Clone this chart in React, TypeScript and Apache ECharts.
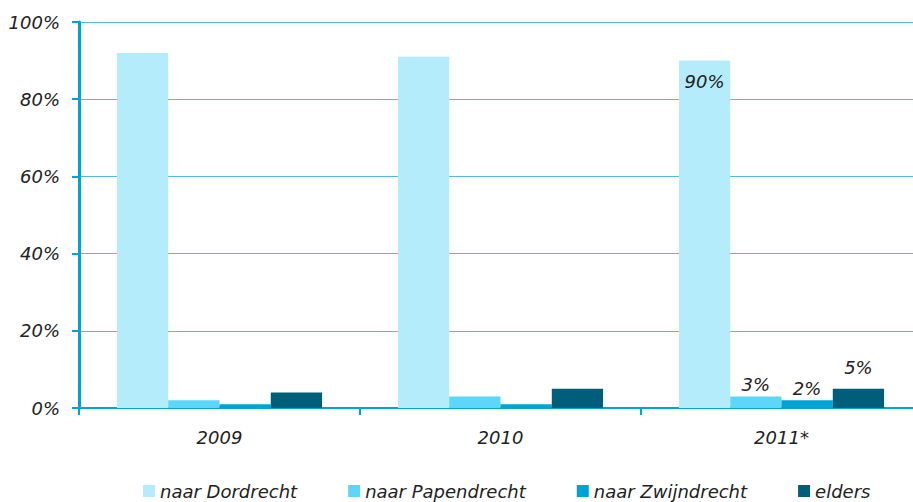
import React, { useEffect, useRef } from "react";
import * as echarts from "echarts";

const categories = ["2009", "2010", "2011*"];
const seriesNames = ["naar Dordrecht", "naar Papendrecht", "naar Zwijndrecht", "elders"];
const dordrecht = [92, 91, 90];
const papendrecht = [2, 3, 3];
const zwijndrecht = [1, 1, 2];
const elders = [4, 5, 5];
const colors = ["#B5ECFC", "#5ED6FA", "#00A3D4", "#005E7A"];
const yTicks = [0, 20, 40, 60, 80, 100];

const FONT = "DejaVu Sans";

export default function App() {
  const ref = useRef<HTMLDivElement>(null);
  useEffect(() => {
    if (!ref.current) return;
    const chart = echarts.init(ref.current, undefined, { renderer: "svg" });
    const labelStyle = {
      fontFamily: FONT,
      fontStyle: "italic" as const,
      fontSize: 18,
      color: "#222222",
    };
    const lastOnly = (pos: string, dist: number) => ({
      show: true,
      position: pos,
      distance: dist,
      ...labelStyle,
      formatter: (p: any) => (p.dataIndex === 2 ? p.value + "%" : ""),
    });
    const all = [dordrecht, papendrecht, zwijndrecht, elders];
    const labels = [lastOnly("insideTop", 12), lastOnly("top", 3), lastOnly("top", 3), lastOnly("top", 12)];
    chart.setOption({
      animation: false,
      textStyle: { fontFamily: FONT },
      grid: { left: 79, right: 0, top: 22, bottom: 94, containLabel: false },
      legend: {
        bottom: 2,
        left: 143,
        padding: 0,
        itemWidth: 12,
        itemHeight: 12,
        itemGap: 51,
        icon: "rect",
        data: seriesNames,
        textStyle: { ...labelStyle, padding: [0, 0, 0, 0] },
      },
      xAxis: {
        type: "category",
        data: categories,
        axisLine: { lineStyle: { color: "#00A3D4", width: 2 } },
        axisTick: { show: true, length: 7, lineStyle: { color: "#00A3D4", width: 2 } },
        axisLabel: { ...labelStyle, margin: 20 },
      },
      yAxis: {
        type: "value",
        min: 0,
        max: 100,
        interval: 20,
        axisLine: { show: true, lineStyle: { color: "#00A3D4", width: 3 } },
        axisTick: { show: true, length: 7, lineStyle: { color: "#00A3D4", width: 2 } },
        axisLabel: {
          ...labelStyle,
          margin: 19,
          formatter: (v: number) => (yTicks.includes(v) ? v + "%" : ""),
        },
        splitLine: { lineStyle: { color: "#4DBDE6", width: 1 } },
      },
      series: all.map((d, i) => ({
        name: seriesNames[i],
        type: "bar",
        data: d,
        barGap: "0%",
        barCategoryGap: "27%",
        itemStyle: { color: colors[i] },
        label: labels[i],
      })),
    });
    return () => chart.dispose();
  }, []);
  return (
    <div
      style={{
        width: 913,
        height: 502,
        position: "absolute",
        left: 0,
        top: 0,
        overflow: "hidden",
      }}
    >
      <div ref={ref} style={{ width: 922, height: 502 }} />
    </div>
  );
}
